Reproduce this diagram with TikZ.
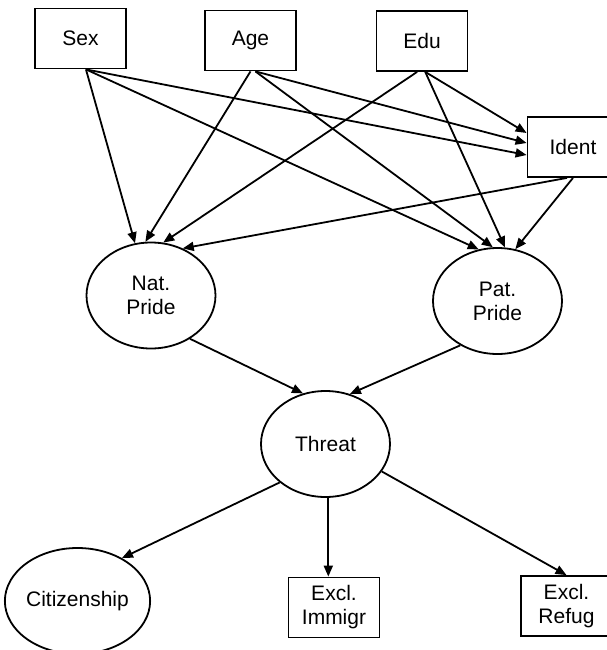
\documentclass[tikz,border=0pt]{standalone}
\usepackage{fontspec}
\setmainfont{Liberation Sans}
\usepackage{tikz}
\usetikzlibrary{arrows.meta}
\usetikzlibrary{shapes.geometric}

\tikzset{
  obs/.style={draw, rectangle, minimum width=45.5pt, minimum height=30pt, inner sep=0pt, align=center},
  lat/.style={draw, ellipse, minimum width=64.5pt, minimum height=53pt, inner sep=0pt, align=center}
}

\begin{document}
\begin{tikzpicture}[x=0.5pt, y=-0.5pt, line width=0.9pt, >={Triangle[length=5.5pt,width=4.5pt]}, font=\fontsize{10.5}{12}\selectfont]
\useasboundingbox (0,0) rectangle (607,650);
% exogenous
\node[obs] at (80.5,38.5) (Sex) {Sex};
\node[obs] at (250.5,40.5) (Age) {Age};
\node[obs] at (422,41) (Edu) {Edu};
\node[obs] at (573,147) (Ident) {Ident};
% pride and threat
\node[lat] at (151,295.5) (NatPride) {Nat.\\Pride};
\node[lat] at (497.5,301) (PatPride) {Pat.\\Pride};
\node[lat] at (325.5,444) (Threat) {Threat};
% outcomes
\node[lat] at (77.5,601) (Citizen) {Citizenship};
\node[obs] at (334,607.5) (Immigr) {Excl.\\Immigr};
\node[obs] at (566.5,606) (Refug) {Excl.\\Refug};

\path[->] (Sex.-80) edge (NatPride.107);
\path[->] (Sex.-80) edge (PatPride.110);
\path[->] (Sex.-80) edge ([yshift=-4pt]Ident.west);
\path[->] (Age.-90) edge (NatPride.96);
\path[->] (Age.-81) edge (PatPride.95);
\path[->] (Age.-81) edge ([yshift=2pt]Ident.west);
\path[->] (Edu.-99) edge (NatPride.77);
\path[->] (Edu.-84) edge (PatPride.82);
\path[->] (Edu.-84) edge ([yshift=7pt]Ident.west);
\path[->] (Ident.-101) edge (NatPride.56);
\path[->] (Ident.-90) edge (PatPride.71);
\path[->] (NatPride.-48) edge (Threat.114);
\path[->] (PatPride.-130) edge (Threat.64);
\path[->] (Threat.220) edge (Citizen.44);
\path[->] (Threat.-87) edge (Threat.-87 |- Immigr.north);
\path[->] (Threat.-26) edge (Refug.north);
\end{tikzpicture}
\end{document}
